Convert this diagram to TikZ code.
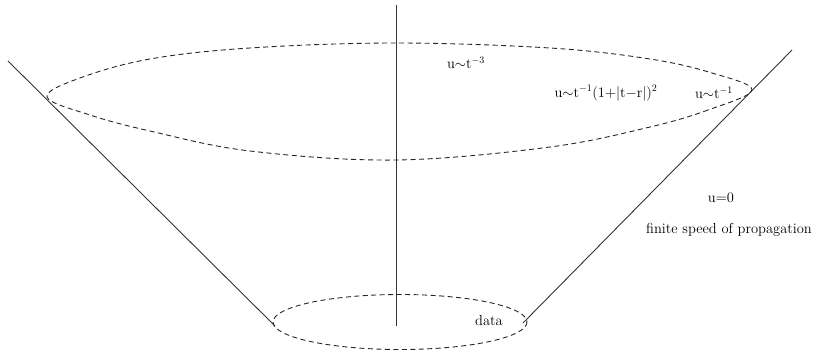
\documentclass[tikz,border=0pt]{standalone}
\usepackage{amsmath}
\begin{document}
\begin{tikzpicture}[x=1pt,y=-1pt,
  solidline/.style={line width=0.9pt,black!80},
  dashline/.style={line width=0.9pt,black!85,dash pattern=on 5pt off 3.5pt},
  lbl/.style={font=\fontsize{14.5}{16}\selectfont,inner sep=0pt}]
\useasboundingbox (0,0) rectangle (819,352);
% axis
\coordinate (axtop) at (396,5);
\coordinate (axbot) at (396,326);
\draw[solidline] (axtop) -- (axbot);
% cone
\coordinate (ltop) at (8,61);
\coordinate (lbot) at (275,326);
\coordinate (rtop) at (792,50);
\coordinate (rbot) at (523,323);
\draw[solidline] (ltop) -- (lbot);
\draw[solidline] (rtop) -- (rbot);
% upper (hand-drawn) ellipse
\draw[dashline] plot[smooth cycle, tension=0.6] coordinates {
  (752,90) (708,110) (650,127) (550,147) (396,160) (250,151) (150,131)
  (90,115) (47,97) (80,78) (150,59) (250,48) (396,43) (550,48) (650,59) (712,73)};
% lower ellipse
\draw[dashline] (400,322) ellipse [x radius=127, y radius=27.5];
% labels
\node[lbl] (a) at (466,63) {u$\sim$t$^{-3}$};
\node[lbl] (b) at (606,93) {u$\sim$t$^{-1}$(1+|t$-$r|)$^{2}$};
\node[lbl] (c) at (714,93) {u$\sim$t$^{-1}$};
\node[lbl] (d) at (721,198) {u=0};
\node[lbl] (e) at (729,230) {finite speed of propagation};
\node[lbl] (f) at (489,321) {data};
\end{tikzpicture}
\end{document}
